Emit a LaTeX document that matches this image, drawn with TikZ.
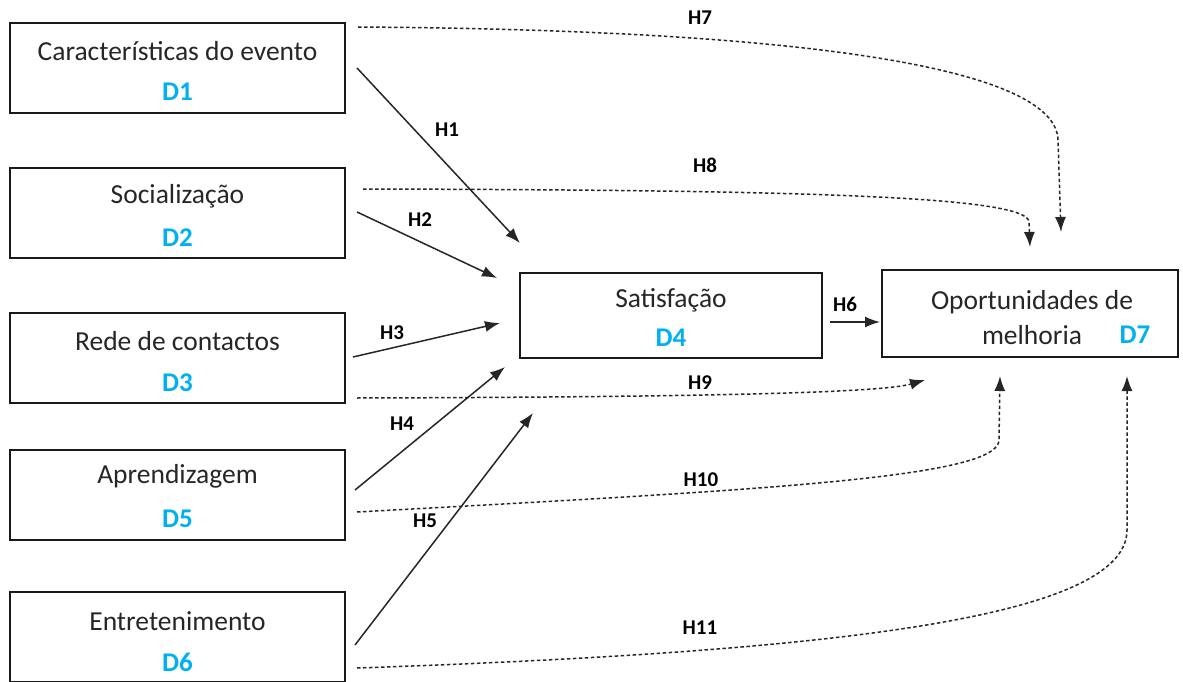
\documentclass[tikz,border=0pt]{standalone}
\usepackage{fontspec}
\setmainfont{Carlito}
\usetikzlibrary{arrows.meta}
\definecolor{txt}{HTML}{262626}
\definecolor{dblue}{HTML}{00B0F0}
\definecolor{ln}{HTML}{262626}

\begin{document}
\begin{tikzpicture}[x=1pt,y=-1pt,
  box/.style={draw=black!90, line width=2pt, minimum width=335pt, minimum height=90pt, inner sep=0pt},
  ttl/.style={text=txt, font=\fontsize{27.5}{32}\selectfont, inner sep=0pt},
  did/.style={text=dblue, font=\fontsize{27}{32}\selectfont\bfseries, inner sep=0pt},
  hyp/.style={text=black, font=\fontsize{21}{24}\selectfont\bfseries, inner sep=0pt},
  link/.style={draw=ln, line width=1.5pt, -{Latex[length=15pt,width=11pt]}},
  indirect/.style={link, dash pattern=on 3.5pt off 2.5pt},
]
\useasboundingbox (0,0) rectangle (1183,682);

% constructs
\node[box] (d1) at (177.5,68)  {};
\node[box] (d2) at (177.5,213) {};
\node[box] (d3) at (177.5,358) {};
\node[box] (d5) at (177.5,495) {};
\node[box] (d6) at (177.5,637) {};
\node[box, minimum width=302pt, minimum height=85pt] (d4) at (671,315.5) {};
\node[box, minimum width=296pt, minimum height=87pt] (d7) at (1030,313.5) {};

% box texts
\node[ttl] (t1) at ([yshift=17pt]d1.center) {Características do evento};
\node[did] (i1) at ([yshift=-24pt]d1.center) {D1};
\node[ttl] (t2) at ([yshift=17pt]d2.center) {Socialização};
\node[did] (i2) at ([yshift=-25pt]d2.center) {D2};
\node[ttl] (t3) at ([yshift=17pt]d3.center) {Rede de contactos};
\node[did] (i3) at ([yshift=-25pt]d3.center) {D3};
\node[ttl] (t5) at ([yshift=19pt]d5.center) {Aprendizagem};
\node[did] (i5) at ([yshift=-24pt]d5.center) {D5};
\node[ttl] (t6) at ([yshift=16pt]d6.center) {Entretenimento};
\node[did] (i6) at ([yshift=-25pt]d6.center) {D6};
\node[ttl] (t4) at ([yshift=15.5pt]d4.center) {Satisfação};
\node[did] (i4) at ([yshift=-22.5pt]d4.center) {D4};
\node[ttl] (t7) at (1032,302) {Oportunidades de};
\node[ttl] (t7b) at (1032,335) {melhoria};
\node[did] (i7) at (1135,335) {D7};

% connector ends
\coordinate (s1) at (357,68);   \coordinate (e1) at (520,243);
\coordinate (s2) at (357,212);  \coordinate (e2) at (497,278);
\coordinate (s3) at (353,357);  \coordinate (e3) at (500,323);
\coordinate (s4) at (355,490);  \coordinate (e4) at (505,367);
\coordinate (s5) at (355,645);  \coordinate (e5) at (533,413);
\coordinate (s6) at (830,322);  \coordinate (e6) at (880,322);
\coordinate (s7) at (358,27);   \coordinate (e7) at (1061,232);
\coordinate (s8) at (363,189);  \coordinate (e8) at (1030,247);
\coordinate (s9) at (357,398);  \coordinate (e9) at (925,380);
\coordinate (s10) at (357,512); \coordinate (e10) at (1000,376);
\coordinate (s11) at (357,668); \coordinate (e11) at (1127,376);

% direct effects
\draw[link] (s1) -- (e1);
\draw[link] (s2) -- (e2);
\draw[link] (s3) -- (e3);
\draw[link] (s4) -- (e4);
\draw[link] (s5) -- (e5);
\draw[link] (s6) -- (e6);

% effects on improvement opportunities
\draw[indirect] (s7) .. controls (820,30) and (1056,70) .. (1058,140) -- (e7);
\draw[indirect] (s8) .. controls (800,190) and (1028,196) .. (1029,222) -- (e8);
\draw[indirect] (s9) .. controls (700,397) and (880,393) .. (e9);
\draw[indirect] (s10) .. controls (760,490) and (999,478) .. (999,440) -- (e10);
\draw[indirect] (s11) .. controls (820,652) and (1127,620) .. (1127,530) -- (e11);

% hypothesis labels
\node[hyp] (h1) at (447,130) {H1};
\node[hyp] (h2) at (420,220) {H2};
\node[hyp] (h3) at (392,333) {H3};
\node[hyp] (h4) at (402,424) {H4};
\node[hyp] (h5) at (425,521) {H5};
\node[hyp] (h6) at (845,304) {H6};
\node[hyp] (h7) at (700,18)  {H7};
\node[hyp] (h8) at (705,165) {H8};
\node[hyp] (h9) at (700,383) {H9};
\node[hyp] (h10) at (701,480) {H10};
\node[hyp] (h11) at (700,628) {H11};
\end{tikzpicture}
\end{document}
